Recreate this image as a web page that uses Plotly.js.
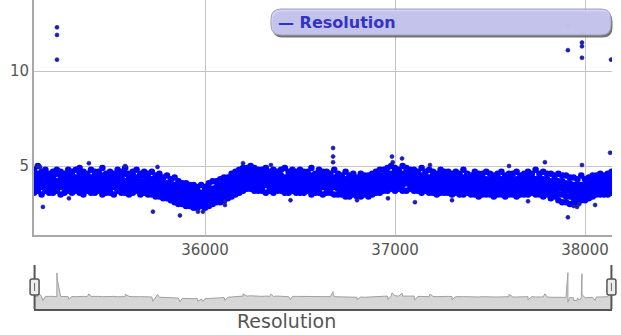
<!DOCTYPE html>
<html>
<head>
<meta charset="utf-8">
<script src="https://cdn.plot.ly/plotly-3.0.1.min.js"></script>
<style>html,body{margin:0;padding:0;background:#fff;}#chart{width:621px;height:335px;}</style>
</head>
<body>
<div id="chart"></div>
<script>
// sample positions (frame index) shared by the band rows
const xPos = [
35100,35120,35140,35160,35180,35200,35220,35240,35260,35280,
35300,35320,35340,35360,35380,35400,35420,35440,35460,35480,
35500,35520,35540,35560,35580,35600,35620,35640,35660,35680,
35700,35720,35740,35760,35780,35800,35820,35840,35860,35880,
35900,35920,35940,35960,35980,36000,36020,36040,36060,36080,
36100,36120,36140,36160,36180,36200,36220,36240,36260,36280,
36300,36320,36340,36360,36380,36400,36420,36440,36460,36480,
36500,36520,36540,36560,36580,36600,36620,36640,36660,36680,
36700,36720,36740,36760,36780,36800,36820,36840,36860,36880,
36900,36920,36940,36960,36980,37000,37020,37040,37060,37080,
37100,37120,37140,37160,37180,37200,37220,37240,37260,37280,
37300,37320,37340,37360,37380,37400,37420,37440,37460,37480,
37500,37520,37540,37560,37580,37600,37620,37640,37660,37680,
37700,37720,37740,37760,37780,37800,37820,37840,37860,37880,
37900,37920,37940,37960,37980,38000,38020,38040,38060,38080,
38100,38120,38140];

// Resolution values (upper edge -> lower edge)
const resUpper = [
4.8,5.0,4.7,4.8,4.6,4.7,4.8,4.7,4.6,4.8,
4.7,4.8,4.9,4.7,4.6,4.8,4.7,4.7,4.9,4.6,
4.7,4.6,4.8,4.7,4.9,4.6,4.7,4.8,4.6,4.7,
4.6,4.7,4.5,4.6,4.4,4.5,4.3,4.4,4.2,4.1,
4.1,4.0,4.0,3.9,4.0,3.9,4.1,4.2,4.2,4.3,
4.4,4.4,4.6,4.7,4.8,4.9,4.9,5.0,4.9,4.8,
4.8,4.9,4.7,4.8,4.7,4.8,4.9,4.7,4.8,4.7,
4.8,4.7,4.7,4.9,4.6,4.8,4.7,4.7,4.6,4.8,
4.6,4.5,4.7,4.5,4.6,4.4,4.6,4.5,4.5,4.6,
4.7,4.8,4.8,4.9,5.0,4.9,4.8,5.0,4.9,4.8,
4.8,4.7,4.9,4.7,4.8,4.7,4.6,4.8,4.7,4.7,
4.6,4.7,4.6,4.8,4.6,4.5,4.7,4.6,4.6,4.7,
4.6,4.5,4.6,4.7,4.5,4.6,4.6,4.7,4.5,4.6,
4.7,4.6,4.8,4.6,4.7,4.6,4.6,4.5,4.6,4.5,
4.5,4.4,4.4,4.3,4.5,4.3,4.4,4.5,4.5,4.6,
4.5,4.6,4.7];
const resHigh = [
4.5,4.6,4.4,4.5,4.5,4.4,4.6,4.5,4.4,4.5,
4.5,4.4,4.6,4.5,4.5,4.4,4.5,4.6,4.5,4.4,
4.4,4.5,4.5,4.4,4.6,4.4,4.5,4.4,4.5,4.5,
4.4,4.3,4.3,4.3,4.2,4.1,4.1,4.0,3.9,3.8,
3.8,3.8,3.7,3.7,3.6,3.7,3.8,3.8,3.9,4.0,
4.1,4.2,4.3,4.4,4.5,4.6,4.6,4.7,4.6,4.6,
4.5,4.6,4.5,4.5,4.6,4.5,4.4,4.5,4.6,4.5,
4.5,4.5,4.4,4.5,4.4,4.5,4.4,4.5,4.4,4.4,
4.4,4.3,4.3,4.2,4.3,4.2,4.3,4.2,4.3,4.3,
4.4,4.5,4.5,4.6,4.6,4.7,4.6,4.6,4.7,4.6,
4.6,4.5,4.5,4.5,4.4,4.5,4.4,4.5,4.4,4.5,
4.4,4.4,4.3,4.4,4.4,4.3,4.4,4.3,4.4,4.3,
4.3,4.3,4.4,4.3,4.3,4.4,4.3,4.3,4.4,4.3,
4.4,4.4,4.3,4.4,4.3,4.3,4.2,4.3,4.2,4.2,
4.1,4.1,4.0,4.0,4.0,4.0,4.1,4.2,4.3,4.3,
4.3,4.4,4.4];
const resMidHigh = [
4.3,4.3,4.2,4.3,4.4,4.3,4.2,4.3,4.3,4.2,
4.3,4.2,4.3,4.3,4.2,4.3,4.4,4.3,4.2,4.3,
4.2,4.3,4.2,4.3,4.2,4.3,4.2,4.3,4.2,4.2,
4.2,4.1,4.1,4.0,4.0,3.9,3.9,3.8,3.7,3.6,
3.6,3.5,3.5,3.5,3.4,3.5,3.6,3.6,3.7,3.8,
3.9,4.0,4.1,4.2,4.3,4.4,4.4,4.5,4.4,4.4,
4.3,4.4,4.3,4.3,4.4,4.3,4.3,4.2,4.3,4.3,
4.3,4.3,4.2,4.3,4.2,4.3,4.2,4.3,4.2,4.2,
4.2,4.1,4.1,4.0,4.1,4.0,4.1,4.0,4.1,4.1,
4.2,4.3,4.3,4.4,4.4,4.5,4.4,4.4,4.5,4.4,
4.4,4.3,4.3,4.3,4.2,4.3,4.2,4.3,4.2,4.3,
4.2,4.2,4.1,4.2,4.2,4.1,4.2,4.1,4.2,4.1,
4.1,4.1,4.1,4.1,4.1,4.2,4.1,4.1,4.2,4.1,
4.2,4.2,4.1,4.2,4.1,4.1,4.0,4.1,4.0,4.0,
3.9,3.9,3.8,3.8,3.8,3.8,3.9,4.0,4.1,4.1,
4.1,4.2,4.2];
const resMidLow = [
4.1,4.1,4.0,4.1,4.1,4.0,4.1,4.0,4.1,4.1,
4.1,4.0,4.1,4.1,4.0,4.1,4.1,4.0,4.1,4.1,
4.0,4.1,4.0,4.1,4.0,4.0,4.1,4.0,4.1,4.0,
4.0,3.9,3.9,3.8,3.8,3.8,3.7,3.6,3.5,3.4,
3.4,3.3,3.3,3.3,3.2,3.3,3.3,3.4,3.5,3.6,
3.7,3.8,3.9,4.0,4.1,4.2,4.2,4.3,4.2,4.2,
4.1,4.2,4.1,4.1,4.2,4.1,4.1,4.0,4.1,4.1,
4.1,4.1,4.0,4.1,4.0,4.1,4.0,4.1,4.0,4.0,
4.0,3.9,3.9,3.8,3.9,3.8,3.9,3.8,3.9,3.9,
4.0,4.1,4.1,4.2,4.2,4.3,4.2,4.2,4.3,4.2,
4.2,4.1,4.1,4.1,4.0,4.1,4.0,4.1,4.0,4.1,
4.0,4.0,3.9,4.0,4.0,3.9,4.0,3.9,4.0,3.9,
3.9,3.9,3.9,3.9,3.9,4.0,3.9,3.9,4.0,3.9,
4.0,4.0,3.9,4.0,3.9,3.9,3.8,3.9,3.8,3.8,
3.7,3.7,3.6,3.6,3.6,3.6,3.7,3.8,3.9,3.9,
3.9,4.0,4.0];
const resLow = [
3.9,3.8,3.9,3.9,3.8,3.9,3.8,3.9,3.9,3.8,
3.9,3.8,3.9,3.8,3.9,3.9,3.8,3.9,3.8,3.9,
3.8,3.9,3.8,3.8,3.9,3.8,3.9,3.8,3.8,3.9,
3.8,3.7,3.7,3.6,3.6,3.5,3.5,3.4,3.3,3.2,
3.2,3.1,3.1,3.0,3.0,3.1,3.1,3.2,3.3,3.4,
3.5,3.6,3.7,3.8,3.9,4.0,4.0,4.1,4.0,4.0,
3.9,4.0,3.9,3.9,4.0,3.9,3.9,3.8,3.9,3.9,
3.9,3.8,3.9,3.8,3.9,3.8,3.9,3.8,3.8,3.9,
3.8,3.7,3.7,3.6,3.7,3.6,3.7,3.6,3.7,3.7,
3.8,3.9,3.9,4.0,4.0,4.0,4.0,4.0,4.1,4.0,
4.0,3.9,3.9,3.9,3.8,3.9,3.8,3.9,3.8,3.9,
3.8,3.8,3.7,3.8,3.8,3.7,3.8,3.7,3.8,3.7,
3.7,3.7,3.7,3.7,3.7,3.8,3.7,3.7,3.8,3.7,
3.8,3.8,3.7,3.8,3.7,3.7,3.6,3.7,3.5,3.5,
3.4,3.4,3.3,3.3,3.4,3.4,3.5,3.6,3.7,3.7,
3.7,3.8,3.8];
const resLower = [
3.6,3.7,3.5,3.7,3.6,3.6,3.7,3.5,3.6,3.7,
3.6,3.7,3.6,3.5,3.7,3.6,3.6,3.7,3.5,3.6,
3.6,3.5,3.7,3.6,3.6,3.5,3.6,3.7,3.5,3.6,
3.5,3.5,3.4,3.4,3.3,3.3,3.2,3.1,3.0,3.0,
2.9,2.9,2.8,2.8,2.9,2.8,2.9,3.0,3.1,3.1,
3.2,3.3,3.4,3.5,3.6,3.7,3.8,3.8,3.7,3.7,
3.7,3.6,3.7,3.6,3.7,3.7,3.6,3.6,3.7,3.6,
3.6,3.6,3.7,3.5,3.6,3.6,3.5,3.6,3.6,3.5,
3.5,3.5,3.4,3.4,3.5,3.4,3.4,3.5,3.4,3.5,
3.6,3.6,3.7,3.7,3.8,3.7,3.8,3.7,3.7,3.8,
3.7,3.7,3.6,3.7,3.6,3.6,3.5,3.6,3.6,3.6,
3.5,3.6,3.5,3.5,3.6,3.5,3.5,3.4,3.5,3.5,
3.5,3.4,3.5,3.5,3.4,3.5,3.5,3.4,3.5,3.5,
3.5,3.6,3.5,3.5,3.4,3.5,3.3,3.4,3.2,3.1,
3.1,3.0,3.0,3.1,3.2,3.2,3.3,3.4,3.5,3.5,
3.5,3.5,3.6];

// isolated points outside the band
const outX = [35221,35221,35221,37910,37910,37984,37984,37984,37984,38137,
  36674,36674,36674,36105,36105,35989,36200,36347,36984,36988,36963,37037,
  35147,35389,35284,35726,35868,35963,37105,37910,37958,38053,37984,38132,
  37789,37184,35120,35132,35580,35750,36450,36800,37300,37600,37700,37970,37940];
const outY = [12.3,11.9,10.6,12.4,11.1,12.0,11.5,11.3,10.7,10.6,
  5.95,5.5,5.2,3.15,2.95,2.6,5.15,5.05,5.5,5.2,3.3,5.4,
  2.85,5.15,3.3,2.6,2.4,2.6,3.1,2.3,2.85,2.95,5.05,5.7,
  5.2,5.05,5.0,4.95,5.0,4.95,3.2,3.2,3.2,5.0,3.15,3.0,2.9];

const xRange = [35100, 38142];

// assemble band scatter from the rows
const rows = [resUpper, resHigh, resMidHigh, resMidLow, resLow, resLower];
let bx = [], by = [];
rows.forEach(r => { bx = bx.concat(xPos); by = by.concat(r); });

// overview (range strip) line: middle row + isolated points, ordered by x
let ov = xPos.map((x, i) => [x, resMidHigh[i]]).concat(outX.map((x, i) => [x, outY[i]]));
ov.sort((a, b) => a[0] - b[0]);

const traces = [
  { type: 'scatter', mode: 'markers', x: bx, y: by, name: 'Resolution',
    marker: { size: 6.5, color: '#0000ff', line: { width: 0 } },
    xaxis: 'x', yaxis: 'y', showlegend: false, hoverinfo: 'skip' },
  { type: 'scatter', mode: 'markers', x: outX, y: outY, name: 'Resolution',
    marker: { size: 4, color: '#1a1ad0', line: { width: 0.6, color: '#202070' } },
    xaxis: 'x', yaxis: 'y', showlegend: false, hoverinfo: 'skip' },
  { type: 'scatter', mode: 'lines', x: ov.map(p => p[0]), y: ov.map(p => p[1]),
    fill: 'tozeroy', fillcolor: '#d6d6d6', line: { color: '#a0a0a0', width: 1 },
    xaxis: 'x2', yaxis: 'y2', showlegend: false, hoverinfo: 'skip' }
];

const pyMain = v => (309 - v) / 309;   // pixel row -> paper y
const pxMain = v => (v - 34) / 578;     // pixel col -> paper x

const roundRect = (hw, hh, r) =>
  `M ${-hw + r},${-hh} L ${hw - r},${-hh} Q ${hw},${-hh} ${hw},${-hh + r} L ${hw},${hh - r} Q ${hw},${hh} ${hw - r},${hh} ` +
  `L ${-hw + r},${hh} Q ${-hw},${hh} ${-hw},${hh - r} L ${-hw},${-hh + r} Q ${-hw},${-hh} ${-hw + r},${-hh} Z`;

const shapes = [
  // legend shadow + box
  { type: 'path', xref: 'paper', yref: 'paper', xsizemode: 'pixel', ysizemode: 'pixel',
    xanchor: pxMain(442.5), yanchor: pyMain(24.5), path: roundRect(170, 13, 10),
    fillcolor: 'rgba(90,90,90,0.85)', line: { width: 0 }, layer: 'above' },
  { type: 'path', xref: 'paper', yref: 'paper', xsizemode: 'pixel', ysizemode: 'pixel',
    xanchor: pxMain(441), yanchor: pyMain(22), path: roundRect(170, 13, 10),
    fillcolor: 'rgba(204,204,250,0.9)', line: { width: 1, color: '#a0a0b8' }, layer: 'above' },
  // range strip end bars
  { type: 'line', xref: 'paper', yref: 'paper', x0: 0.001, x1: 0.001, y0: 0, y1: pyMain(265),
    line: { color: '#555', width: 2 } },
  { type: 'line', xref: 'paper', yref: 'paper', x0: 0.999, x1: 0.999, y0: 0, y1: pyMain(265),
    line: { color: '#555', width: 2 } },
  // handles
  { type: 'path', xref: 'paper', yref: 'paper', xsizemode: 'pixel', ysizemode: 'pixel',
    xanchor: 0.001, yanchor: pyMain(287), path: roundRect(4.5, 8, 2),
    fillcolor: '#ececec', line: { width: 1.5, color: '#555' }, layer: 'above' },
  { type: 'path', xref: 'paper', yref: 'paper', xsizemode: 'pixel', ysizemode: 'pixel',
    xanchor: 0.999, yanchor: pyMain(287), path: roundRect(4.5, 8, 2),
    fillcolor: '#ececec', line: { width: 1.5, color: '#555' }, layer: 'above' },
  { type: 'path', xref: 'paper', yref: 'paper', xsizemode: 'pixel', ysizemode: 'pixel',
    xanchor: 0.001, yanchor: pyMain(287), path: 'M 0,-4 L 0,4',
    line: { width: 1, color: '#666' }, layer: 'above' },
  { type: 'path', xref: 'paper', yref: 'paper', xsizemode: 'pixel', ysizemode: 'pixel',
    xanchor: 0.999, yanchor: pyMain(287), path: 'M 0,-4 L 0,4',
    line: { width: 1, color: '#666' }, layer: 'above' }
];

const layout = {
  width: 621, height: 335,
  margin: { l: 34, r: 9, t: 0, b: 26, pad: 0 },
  paper_bgcolor: '#fff', plot_bgcolor: '#fff',
  font: { family: 'DejaVu Sans', size: 15, color: '#555' },
  showlegend: false,
  xaxis: { domain: [0, 1], range: xRange, anchor: 'y', tickvals: [36000, 37000, 38000],
    ticktext: ['36000', '37000', '38000'], showgrid: true, gridcolor: '#c4c4c4', gridwidth: 1,
    showline: true, linecolor: '#a8a8a8', linewidth: 2, zeroline: false, ticks: '',
    tickfont: { family: 'DejaVu Sans', size: 15, color: '#555' } },
  yaxis: { domain: [pyMain(235), 1], range: [1.37, 13.74], anchor: 'x', tickvals: [5, 10],
    showgrid: true, gridcolor: '#c4c4c4', gridwidth: 1, showline: true, linecolor: '#a8a8a8',
    linewidth: 2, zeroline: false, ticks: '',
    tickfont: { family: 'DejaVu Sans', size: 15, color: '#555' } },
  xaxis2: { domain: [0, 1], range: xRange, anchor: 'y2', showticklabels: false, showgrid: false,
    zeroline: false, showline: true, linecolor: '#555', linewidth: 2, ticks: '' },
  yaxis2: { domain: [0, pyMain(265)], range: [0, 15], anchor: 'x2', visible: false },
  shapes: shapes,
  annotations: [
    { xref: 'paper', yref: 'paper', x: pxMain(276), y: pyMain(22), xanchor: 'left', yanchor: 'middle',
      text: '<b>— Resolution</b>', showarrow: false,
      font: { family: 'DejaVu Sans', size: 16, color: '#3434c4' } },
    { xref: 'paper', yref: 'paper', x: pxMain(286), y: pyMain(321), xanchor: 'center', yanchor: 'middle',
      text: 'Resolution', showarrow: false,
      font: { family: 'DejaVu Sans', size: 19, color: '#555' } }
  ]
};

Plotly.newPlot('chart', traces, layout, { staticPlot: true, displayModeBar: false });
</script>
</body>
</html>
